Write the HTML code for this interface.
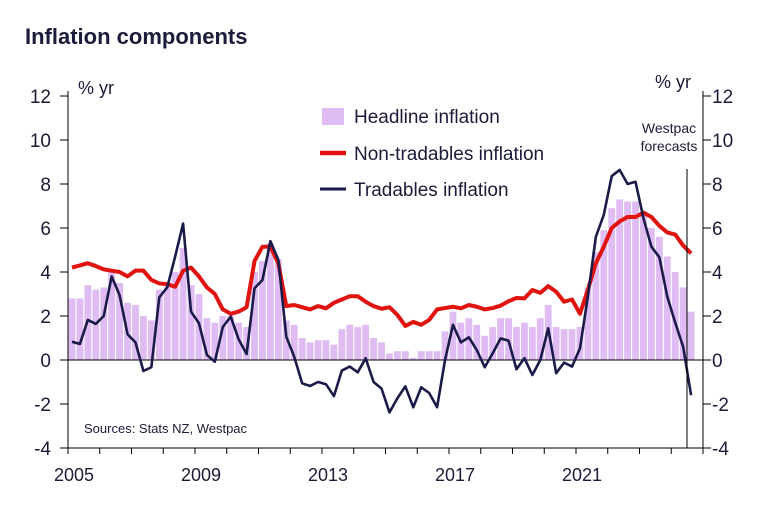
<!DOCTYPE html>
<html><head><meta charset="utf-8"><style>
body{margin:0;background:#fff;}
svg text{font-family:"Liberation Sans",Arial,sans-serif;fill:#1b1b3a;}
</style></head><body>
<svg id="chart" width="765" height="525" viewBox="0 0 765 525" xmlns="http://www.w3.org/2000/svg">
<text x="25" y="44" font-size="22" font-weight="bold" style="fill:#1b1b3a">Inflation components</text>
<text x="78" y="94" font-size="18">% yr</text>
<text x="655" y="88" font-size="18">% yr</text>
<g id="grid"></g><g id="bars"></g><g id="lines"></g><g id="axes"></g>
<line x1="687" y1="169" x2="687" y2="448" stroke="#000" stroke-width="1"/>
<text x="669" y="133" font-size="14" text-anchor="middle">Westpac</text>
<text x="669" y="151" font-size="14" text-anchor="middle">forecasts</text>
<g>
<rect x="322" y="108" width="22" height="17" fill="#dfbdf2"/>
<text x="354" y="123" font-size="19">Headline inflation</text>
<line x1="320" y1="153" x2="346" y2="153" stroke="#e0130f" stroke-width="4.5"/>
<text x="354" y="160" font-size="19">Non-tradables inflation</text>
<line x1="320" y1="189" x2="346" y2="189" stroke="#1b1b4a" stroke-width="3"/>
<text x="354" y="196" font-size="19">Tradables inflation</text>
</g>
<text x="84" y="433" font-size="13">Sources: Stats NZ, Westpac</text>
</svg>
<script>
const headline=[2.8,2.8,3.4,3.2,3.3,4.0,3.5,2.6,2.5,2.0,1.8,3.2,3.4,4.0,5.1,3.4,3.0,1.9,1.7,2.0,2.0,1.7,1.5,4.0,4.5,5.3,4.6,1.8,1.6,1.0,0.8,0.9,0.9,0.7,1.4,1.6,1.5,1.6,1.0,0.8,0.3,0.4,0.4,0.1,0.4,0.4,0.4,1.3,2.2,1.7,1.9,1.6,1.1,1.5,1.9,1.9,1.5,1.7,1.5,1.9,2.5,1.5,1.4,1.4,1.5,3.3,4.9,5.9,6.9,7.3,7.2,7.2,6.7,6.0,5.6,4.7,4.0,3.3,2.2];
const nonTradables=[4.2,4.3,4.4,4.27,4.12,4.06,4.0,3.8,4.06,4.06,3.64,3.48,3.45,3.33,4.06,4.2,3.8,3.3,3.0,2.3,2.1,2.2,2.4,4.5,5.15,5.15,4.4,2.45,2.5,2.4,2.3,2.45,2.35,2.6,2.75,2.9,2.9,2.65,2.45,2.33,2.4,2.05,1.55,1.73,1.6,1.82,2.3,2.36,2.42,2.35,2.5,2.42,2.3,2.36,2.47,2.67,2.82,2.8,3.18,3.05,3.36,3.1,2.65,2.75,2.1,3.2,4.4,5.15,6.0,6.3,6.5,6.5,6.7,6.5,6.1,5.8,5.7,5.2,4.85];
const tradables=[0.83,0.73,1.82,1.64,2.0,3.8,2.95,1.17,0.8,-0.5,-0.33,2.85,3.3,4.7,6.2,2.2,1.67,0.23,-0.08,1.5,1.97,0.94,0.27,3.26,3.64,5.4,4.55,1.06,0.15,-1.06,-1.18,-1.0,-1.1,-1.64,-0.48,-0.3,-0.56,0.08,-1.0,-1.3,-2.38,-1.74,-1.2,-2.15,-1.24,-1.5,-2.15,0.0,1.6,0.8,1.03,0.45,-0.33,0.3,0.98,0.88,-0.42,0.08,-0.68,0.0,1.44,-0.6,-0.12,-0.3,0.53,2.9,5.6,6.6,8.36,8.64,8.0,8.1,6.44,5.15,4.67,2.88,1.7,0.6,-1.6];
const yTicks=[12,10,8,6,4,2,0,-2,-4];
const xLabels=["2005","2009","2013","2017","2021"];
const startYear=2005, endYear=2025;
const X0=68,X1=703,Y0=96,Y1=448,VMAX=12,VMIN=-4;
const xq=q=>X0+(q+0.5)*(X1-X0)/((endYear-startYear)*4);
const xy=yr=>X0+(yr-startYear)*(X1-X0)/(endYear-startYear);
const y=v=>Y0+(VMAX-v)*(Y1-Y0)/(VMAX-VMIN);
const NS="http://www.w3.org/2000/svg";
function mk(tag,parent,attrs){const e=document.createElementNS(NS,tag);for(const k in attrs)e.setAttribute(k,attrs[k]);document.getElementById(parent).appendChild(e);return e;}
const bw=(X1-X0)/((endYear-startYear)*4)*0.86;
headline.forEach((v,i)=>{const r=mk('rect','bars',{x:xq(i)-bw/2,y:Math.min(y(v),y(0)),width:bw,height:Math.abs(y(v)-y(0)),fill:'#dfbdf2'});

});
const zl=mk('line','lines',{x1:X0,x2:X1,y1:y(0),y2:y(0),stroke:'#000','stroke-width':1});


const nt=mk('polyline','lines',{points:nonTradables.map((v,i)=>xq(i)+','+y(v)).join(' '),fill:'none',stroke:'#e0130f','stroke-width':4,'stroke-linejoin':'round'});


const tr=mk('polyline','lines',{points:tradables.map((v,i)=>xq(i)+','+y(v)).join(' '),fill:'none',stroke:'#1b1b4a','stroke-width':2.6,'stroke-linejoin':'round'});


[X0,X1].forEach((xx,k)=>{const a=mk('line','axes',{x1:xx,x2:xx,y1:Y0-5,y2:Y1,stroke:'#000','stroke-width':1});

});
const bx=mk('line','axes',{x1:X0,x2:X1,y1:Y1,y2:Y1,stroke:'#000','stroke-width':1});


yTicks.forEach(v=>{
 mk('line','axes',{x1:X0-8,x2:X0,y1:y(v),y2:y(v),stroke:'#000'});
 mk('line','axes',{x1:X1,x2:X1+8,y1:y(v),y2:y(v),stroke:'#000'});
 const l=mk('text','axes',{x:51,y:y(v)+7,'font-size':19,'text-anchor':'end'});l.textContent=v;
 
 
 const r=mk('text','axes',{x:712,y:y(v)+7,'font-size':19});r.textContent=v;
 
 
});
for(let yr=startYear;yr<=endYear;yr++){mk('line','axes',{x1:xy(yr),x2:xy(yr),y1:Y1,y2:Y1+6,stroke:'#000'});}
xLabels.forEach(s=>{const t=mk('text','axes',{x:xy(+s)+6,y:481,'font-size':18,'text-anchor':'middle'});t.textContent=s;

});
</script>
</body></html>
